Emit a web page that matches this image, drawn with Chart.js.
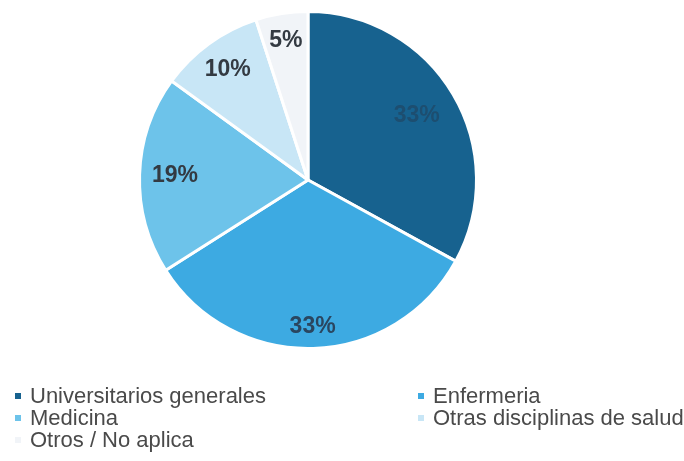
<!DOCTYPE html>
<html>
<head>
<meta charset="utf-8">
<script src="https://cdn.jsdelivr.net/npm/chart.js@4/dist/chart.umd.min.js"></script>
<style>
  html, body { margin: 0; padding: 0; background: #ffffff; }
  #wrap { position: relative; width: 684px; height: 461px; }
  #chart { position: absolute; left: 0; top: 0; }
  #legend {
    position: absolute; left: 15px; top: 385px; width: 669px;
    display: grid; grid-template-columns: 403px 266px;
    font-family: "Liberation Sans", Arial, Helvetica, sans-serif;
    font-size: 22px; color: #4a4a4a; line-height: 22px;
  }
  .item { display: flex; align-items: center; white-space: nowrap; }
  .box { width: 6px; height: 6px; margin-right: 9px; flex: none; }
</style>
</head>
<body>
<div id="wrap">
  <canvas id="chart" width="684" height="461"></canvas>
  <div id="legend"></div>
</div>
<script>
// Respondent background categories and their share of the total (%)
const categories = [
  "Universitarios generales",
  "Enfermeria",
  "Medicina",
  "Otras disciplinas de salud",
  "Otros / No aplica"
];
const shares = [33, 33, 19, 10, 5];
const valueLabels = ["33%", "33%", "19%", "10%", "5%"];

// Styling
const sliceColors = ["#17628f", "#3daae2", "#6dc3ea", "#c8e6f6", "#f1f4f8"];
const labelColors = ["#1d4e70", "#2a4660", "#333a42", "#333a42", "#333a42"];
const labelRadius = [0.75, 0.87, 0.79, 0.81, 0.84];

// Percentage text placed inside each slice
const sliceLabels = {
  id: "sliceLabels",
  afterDatasetsDraw(chart) {
    const ctx = chart.ctx;
    const arcs = chart.getDatasetMeta(0).data;
    ctx.save();
    ctx.font = "bold 23px 'Liberation Sans', Arial, sans-serif";
    ctx.textAlign = "center";
    ctx.textBaseline = "middle";
    arcs.forEach((arc, i) => {
      const p = arc.getProps(["x", "y", "startAngle", "endAngle", "outerRadius"], true);
      const mid = (p.startAngle + p.endAngle) / 2;
      const r = p.outerRadius * labelRadius[i];
      ctx.fillStyle = labelColors[i];
      ctx.fillText(valueLabels[i], p.x + Math.cos(mid) * r, p.y + Math.sin(mid) * r);
    });
    ctx.restore();
  }
};

new Chart(document.getElementById("chart"), {
  type: "pie",
  data: {
    labels: categories,
    datasets: [{
      data: shares,
      backgroundColor: sliceColors,
      borderColor: "#ffffff",
      borderWidth: 3
    }]
  },
  options: {
    responsive: false,
    animation: false,
    layout: { padding: { left: 138, right: 206, top: 10, bottom: 111 } },
    plugins: {
      legend: { display: false },
      tooltip: { enabled: false }
    }
  },
  plugins: [sliceLabels]
});

// Two-column legend built from the same categories and colours
const legend = document.getElementById("legend");
categories.forEach((name, i) => {
  const item = document.createElement("div");
  item.className = "item";
  const box = document.createElement("span");
  box.className = "box";
  box.style.background = sliceColors[i];
  const txt = document.createElement("span");
  txt.textContent = name;
  item.appendChild(box);
  item.appendChild(txt);
  legend.appendChild(item);
});
</script>
</body>
</html>
